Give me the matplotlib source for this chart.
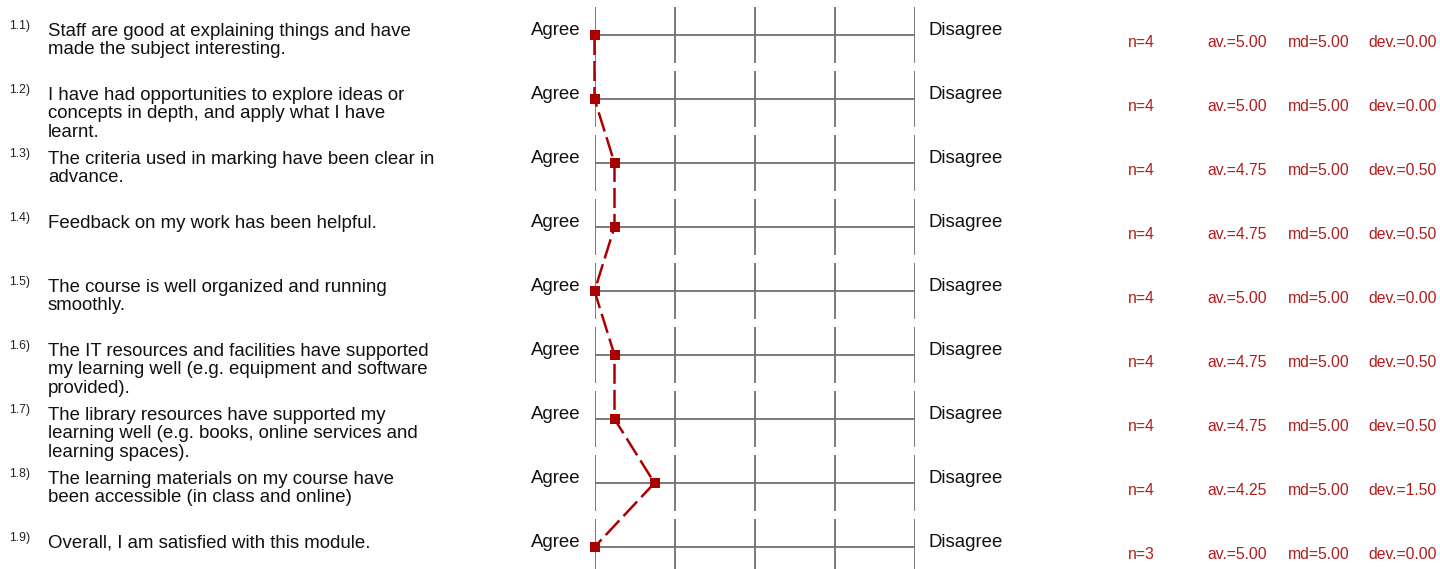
import numpy as np
import matplotlib.pyplot as plt
from matplotlib.transforms import blended_transform_factory

plt.rcParams['font.family'] = ['Liberation Sans', 'DejaVu Sans']

numbers = ["1.1)", "1.2)", "1.3)", "1.4)", "1.5)", "1.6)", "1.7)", "1.8)", "1.9)"]
questions = [
    ["Staff are good at explaining things and have", "made the subject interesting."],
    ["I have had opportunities to explore ideas or", "concepts in depth, and apply what I have", "learnt."],
    ["The criteria used in marking have been clear in", "advance."],
    ["Feedback on my work has been helpful."],
    ["The course is well organized and running", "smoothly."],
    ["The IT resources and facilities have supported", "my learning well (e.g. equipment and software", "provided)."],
    ["The library resources have supported my", "learning well (e.g. books, online services and", "learning spaces)."],
    ["The learning materials on my course have", "been accessible (in class and online)"],
    ["Overall, I am satisfied with this module."],
]
n_resp = [4, 4, 4, 4, 4, 4, 4, 4, 3]
avg = [5.00, 5.00, 4.75, 4.75, 5.00, 4.75, 4.75, 4.25, 5.00]
med = [5.00, 5.00, 5.00, 5.00, 5.00, 5.00, 5.00, 5.00, 5.00]
dev = [0.00, 0.00, 0.50, 0.50, 0.00, 0.50, 0.50, 1.50, 0.00]
scale = [5, 4, 3, 2, 1]

W, H = 1440, 569
fig = plt.figure(figsize=(W / 100, H / 100), dpi=100)
# scale axes: value 5 at the left, 1 at the right, one unit per question row
ax = fig.add_axes([594.5 / W, 0, 320 / W, 1])
ax.set_xlim(5, 1)
ax.set_ylim((H - 35) / 64, -35 / 64)
ax.axis("off")

rows = np.arange(len(avg))
grid = "#707070"
red = "#aa0000"
txt = blended_transform_factory(fig.transFigure, ax.transData)
px = 1 / 64

for i in rows:
    ax.hlines(i, 5, 1, color=grid, lw=1.3)
    ax.vlines(scale, i - 28 * px, i + 27.5 * px, color=grid, lw=1.3)

    ax.text(9 / W, i - 6 * px, numbers[i], transform=txt, fontsize=8.8,
            color="#222222", va="baseline", ha="left")
    for j, line in enumerate(questions[i]):
        ax.text(48 / W, i + (1 + 18.3 * j) * px, line, transform=txt,
                fontsize=13.4, color="#111111", va="baseline", ha="left")

    ax.text(581 / W, i, "Agree", transform=txt, fontsize=13.4,
            color="#111111", va="baseline", ha="right")
    ax.text(928 / W, i, "Disagree", transform=txt, fontsize=13.4,
            color="#111111", va="baseline", ha="left")

    sy = i + 12 * px
    ax.text(1128 / W, sy, "n=%d" % n_resp[i], transform=txt, fontsize=11.3,
            color="#b01c1c", va="baseline")
    ax.text(1207.5 / W, sy, "av.=%.2f" % avg[i], transform=txt, fontsize=11.3,
            color="#b01c1c", va="baseline")
    ax.text(1288 / W, sy, "md=%.2f" % med[i], transform=txt, fontsize=11.3,
            color="#b01c1c", va="baseline")
    ax.text(1368 / W, sy, "dev.=%.2f" % dev[i], transform=txt, fontsize=11.3,
            color="#b01c1c", va="baseline")

ax.plot(avg, rows, color=red, lw=1.8, dashes=(8, 2.4), marker="s",
        markersize=6.5, markeredgewidth=0, clip_on=False, zorder=3)

fig.savefig("out.png", dpi=100)
plt.close()
